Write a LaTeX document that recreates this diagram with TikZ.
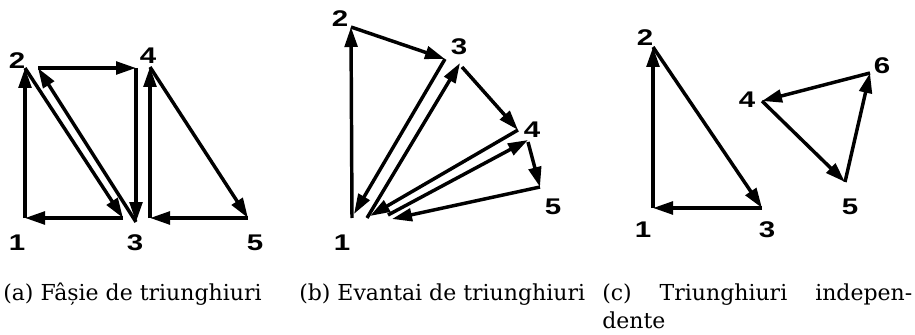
\documentclass[tikz,border=0pt]{standalone}
\usepackage{fontspec}
\newfontfamily\lblfont[FakeStretch=1.3]{Liberation Sans}
\newfontfamily\capfont{DejaVu Serif}
\usetikzlibrary{positioning,arrows.meta}

\begin{document}
\begin{tikzpicture}[
    x=0.75pt, y=-0.75pt,
    >={Triangle[length=15pt,width=9.5pt]},
    edge/.style={
        ->,
        line width=2.6pt,
        line join=miter
    },
    vlabel/.style={
        font=\lblfont\bfseries\fontsize{17}{19}\selectfont,
        inner sep=0pt
    },
    caption/.style={
        font=\capfont\fontsize{16.5}{21}\selectfont,
        inner sep=0pt,
        anchor=base west
    }
]
\useasboundingbox (0,0) rectangle (915,335);

% (a) strip
\coordinate (a1) at (25,218);
\coordinate (a2) at (25,68);
\coordinate (a3) at (123,218);
\coordinate (a2b) at (38,68);
\coordinate (a3b) at (136,222);
\coordinate (a4b) at (136,68);
\coordinate (a3c) at (150,218);
\coordinate (a4c) at (150,67);
\coordinate (a5c) at (248,218);

\draw[edge] (a1) -- (a2);
\draw[edge] (a2) -- (a3);
\draw[edge] (a3) -- (a1);
\draw[edge] (a3b) -- (a2b);
\draw[edge] (a2b) -- (a4b);
\draw[edge] (a4b) -- (a3b);
\draw[edge] (a3c) -- (a4c);
\draw[edge] (a4c) -- (a5c);
\draw[edge] (a5c) -- (a3c);

\node[vlabel] (la1) at (17,243) {1};
\node[vlabel] (la2) at (17,61) {2};
\node[vlabel] (la3) at (135,243) {3};
\node[vlabel] (la4) at (148,56) {4};
\node[vlabel] (la5) at (255,243) {5};

% (b) fan
\coordinate (b1) at (352,218);
\coordinate (b2) at (351,27);
\coordinate (b3) at (445,59);
\coordinate (b1a) at (354,214);
\coordinate (b1b) at (367,218);
\coordinate (b3b) at (460,63);
\coordinate (b3c) at (462,67);
\coordinate (b4) at (518,130);
\coordinate (b1c) at (370,216);
\coordinate (b1d) at (388,215);
\coordinate (b4b) at (528,140);
\coordinate (b4c) at (528,142);
\coordinate (b5) at (540,187);
\coordinate (b1e) at (392,219);

\draw[edge] (b1) -- (b2);
\draw[edge] (b2) -- (b3);
\draw[edge] (b3) -- (b1a);
\draw[edge] (b1b) -- (b3b);
\draw[edge] (b3c) -- (b4);
\draw[edge] (b4) -- (b1c);
\draw[edge] (b1d) -- (b4b);
\draw[edge] (b4c) -- (b5);
\draw[edge] (b5) -- (b1e);

\node[vlabel] (lb1) at (342,243) {1};
\node[vlabel] (lb2) at (340,19) {2};
\node[vlabel] (lb3) at (459,47) {3};
\node[vlabel] (lb4) at (532,130) {4};
\node[vlabel] (lb5) at (553,207) {5};

% (c) independent triangles
\coordinate (c1) at (653,208);
\coordinate (c2) at (653,47);
\coordinate (c3) at (762,208);
\coordinate (c4) at (762,101);
\coordinate (c5) at (845,182);
\coordinate (c6) at (870,73);

\draw[edge] (c1) -- (c2);
\draw[edge] (c2) -- (c3);
\draw[edge] (c3) -- (c1);
\draw[edge] (c4) -- (c5);
\draw[edge] (c5) -- (c6);
\draw[edge] (c6) -- (c4);

\node[vlabel] (lc1) at (643,230) {1};
\node[vlabel] (lc2) at (645,38) {2};
\node[vlabel] (lc3) at (767,230) {3};
\node[vlabel] (lc4) at (747,100) {4};
\node[vlabel] (lc5) at (850,207) {5};
\node[vlabel] (lc6) at (882,66) {6};

% Captions
\node[caption] (capa) at (3,300) {(a) Fâșie de triunghiuri};
\node[caption] (capb) at (299,300) {(b) Evantai de triunghiuri};
\node[caption, text width=310*0.75pt, align=justify] (capc) at (602,300)
    {(c)\hfill Triunghiuri\hfill indepen-\\dente};

\end{tikzpicture}
\end{document}
